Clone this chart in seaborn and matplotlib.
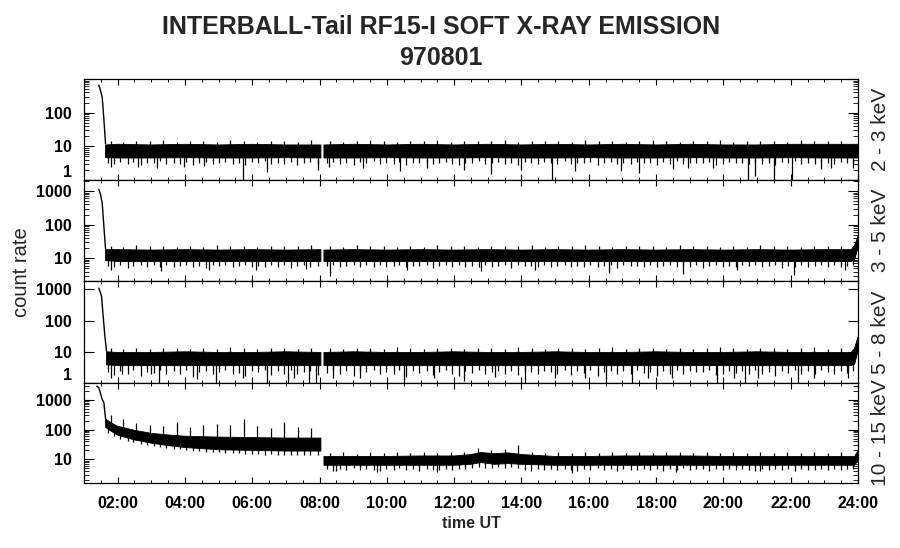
import numpy as np
import matplotlib
matplotlib.use("Agg")
import matplotlib.pyplot as plt
import seaborn as sns
from matplotlib.ticker import FixedLocator, LogLocator, NullFormatter, MultipleLocator, FuncFormatter

sns.set_style("ticks")
plt.rcParams['font.family'] = ['Liberation Sans', 'DejaVu Sans']

NAN = float('nan')

# ---------------- data (hours UT, counts) ----------------
bands = ["2 - 3 keV", "3 - 5 keV", "5 - 8 keV", "10 - 15 keV"]
hour_ticks = [2, 4, 6, 8, 10, 12, 14, 16, 18, 20, 22, 24]

# initial decay of each channel
p1_decay_t = [1.44, 1.50, 1.54, 1.59, 1.64]
p1_decay_v = [660, 420, 290, 66, 12]
p2_decay_t = [1.44, 1.49, 1.54, 1.59, 1.64]
p2_decay_v = [1130, 800, 450, 90, 19]
p3_decay_t = [1.44, 1.52, 1.57, 1.62, 1.67]
p3_decay_v = [1100, 610, 137, 32, 10.5]
p4_decay_t = [1.38, 1.44, 1.54, 1.59, 1.64]
p4_decay_v = [2900, 2600, 1050, 810, 230]

# dense noisy band: core lower / upper envelopes (NaN = data gap)
p1_t  = [1.64, 2, 3, 4, 5, 6, 7, 8.04, 8.08, 8.13, 9, 10, 11, 12, 13, 14, 15, 16, 17, 18, 19, 20, 21, 22, 23, 24]
p1_lo = [4.6, 4.5, 4.5, 4.6, 4.5, 4.5, 4.6, 4.5, NAN, 4.5, 4.5, 4.6, 4.5, 4.5, 4.6, 4.5, 4.5, 4.6, 4.5, 4.5, 4.6, 4.5, 4.5, 4.6, 4.5, 4.5]
p1_hi = [11, 11.5, 11, 11.5, 11, 11.5, 11, 11, NAN, 11, 11.5, 11, 11.5, 11, 11.5, 11, 11.5, 11, 11.5, 11, 11.5, 11, 11, 11.5, 11.5, 11.5]

p2_t  = [1.64, 2, 3, 4, 5, 6, 7, 8.04, 8.08, 8.13, 9, 10, 11, 12, 13, 14, 15, 16, 17, 18, 19, 20, 21, 22, 23, 23.8, 23.9, 24]
p2_lo = [8.5, 8, 8, 8, 8, 8, 8, 8, NAN, 8, 8, 8, 8, 8, 8, 8, 8, 8, 8, 8, 8, 8, 8, 8, 8, 8, 9, 20]
p2_hi = [18, 18, 17.5, 18, 17.5, 18, 17.5, 18, NAN, 17.5, 18, 17.5, 18, 17.5, 18, 17.5, 18, 17.5, 18, 17.5, 18, 17.5, 18, 17.5, 18, 18, 24, 45]

p3_t  = [1.67, 2, 3, 4, 5, 6, 7, 8.04, 8.08, 8.13, 9, 10, 11, 12, 13, 14, 15, 16, 17, 18, 19, 20, 21, 22, 23, 23.8, 23.9, 24]
p3_lo = [3.8, 3.6, 3.6, 3.6, 3.6, 3.6, 3.6, 3.6, NAN, 3.6, 3.6, 3.6, 3.6, 3.6, 3.6, 3.6, 3.6, 3.6, 3.6, 3.6, 3.6, 3.6, 3.6, 3.6, 3.6, 3.6, 4, 10]
p3_hi = [10, 9.5, 9.5, 10, 9.5, 9.5, 10, 9.5, NAN, 9.5, 10, 9.5, 9.5, 10, 9.5, 9.5, 10, 9.5, 9.5, 10, 9.5, 9.5, 10, 9.5, 9.5, 9.5, 13, 30]

p4_t  = [1.64, 1.8, 2.0, 2.5, 3.0, 3.5, 4.0, 5.0, 6.0, 7.0, 8.04, 8.08, 8.13, 9, 10, 11, 12, 12.5, 12.8, 13.2, 13.6, 14.0, 15, 16, 17, 18, 19, 20, 21, 22, 23, 23.9, 24]
p4_lo = [120, 90, 65, 45, 35, 29, 25, 21, 20, 19, 19, NAN, 6.3, 6.3, 6.3, 6.3, 6.3, 6.8, 7.8, 6.8, 7.2, 6.8, 6.3, 6.3, 6.3, 6.3, 6.3, 6.3, 6.3, 6.3, 6.3, 6.3, 9]
p4_hi = [230, 170, 130, 95, 75, 66, 60, 56, 54, 52, 52, NAN, 12.5, 12.5, 12.5, 13, 13, 14.5, 17, 15.5, 16.5, 14.5, 12.5, 12.5, 13, 13, 13, 12.5, 12.5, 12.5, 12.5, 12.5, 20]

# deep isolated downward excursions
p1_dn_t = [1.79, 2.59, 3.18, 3.97, 4.56, 5.71, 6.45, 7.94, 8.28, 9.3, 10.4, 11.2, 12.3, 13.1, 14.0, 14.9, 15.6, 16.97, 17.5, 18.5, 18.95, 19.7, 20.74, 20.93, 21.5, 22.03, 22.9, 23.2, 23.86]
p1_dn_v = [2.5, 2.5, 2.3, 2.5, 2.6, 1.0, 1.7, 2.0, 2.5, 2.2, 1.8, 2.3, 2.0, 1.5, 2.0, 1.0, 1.8, 1.9, 1.6, 2.1, 2.2, 2.2, 1.0, 1.3, 1.0, 1.0, 2.1, 2.3, 2.3]
p2_dn_t = [1.8, 3.3, 4.7, 6.1, 7.6, 8.3, 10.6, 12.8, 14.4, 16.6, 18.8, 20.4, 22.1, 23.6]
p2_dn_v = [4.5, 4.2, 4.5, 4.6, 4.8, 2.9, 4.4, 4.3, 4.5, 3.6, 3.4, 4.6, 3.1, 4.6]
p3_dn_t = [1.79, 2.13, 2.98, 3.23, 4.37, 4.92, 5.71, 6.45, 7.05, 7.24, 7.7, 7.9, 8.4, 9.2, 10.5, 11.4, 12.3, 13.2, 14.1, 15.0, 15.9, 16.52, 17.27, 17.76, 18.46, 19.8, 20.33, 20.63, 21.04, 22.23, 22.7, 23.7]
p3_dn_v = [1.45, 1.9, 1.9, 1.0, 1.3, 1.0, 1.5, 1.0, 1.0, 1.5, 1.0, 1.0, 1.5, 1.4, 1.0, 1.5, 1.2, 1.6, 1.0, 1.5, 1.4, 1.0, 1.0, 1.4, 1.4, 1.0, 1.4, 1.0, 1.4, 1.0, 1.4, 1.4]
p4_dn_t = [8.5, 9.7, 11.5, 15.5, 18.6, 21.1]
p4_dn_v = [4.0, 3.8, 3.7, 3.6, 3.8, 3.9]

# dense fringe of short excursions below the core (shared sample times)
fringe_dn_t = [1.72, 1.9, 2.08, 2.31, 2.47, 2.69, 2.86, 3.07, 3.26, 3.44,
               3.67, 3.85, 4.03, 4.24, 4.41, 4.63, 4.82, 5.01, 5.19, 5.42,
               5.6, 5.78, 5.99, 6.17, 6.38, 6.56, 6.77, 6.95, 7.16, 7.34,
               7.55, 7.73, 7.96, 8.22, 8.41, 8.62, 8.8, 9.01, 9.2, 9.39,
               9.61, 9.79, 9.98, 10.2, 10.37, 10.58, 10.77, 10.96, 11.18, 11.36,
               11.55, 11.76, 11.94, 12.15, 12.33, 12.54, 12.73, 12.92, 13.13, 13.31,
               13.52, 13.7, 13.91, 14.1, 14.29, 14.5, 14.68, 14.89, 15.07, 15.28,
               15.47, 15.66, 15.87, 16.05, 16.26, 16.44, 16.65, 16.84, 17.03, 17.24,
               17.42, 17.63, 17.81, 18.02, 18.21, 18.4, 18.61, 18.79, 19.0, 19.18,
               19.39, 19.58, 19.77, 19.98, 20.16, 20.37, 20.55, 20.76, 20.95, 21.14,
               21.35, 21.53, 21.74, 21.92, 22.13, 22.32, 22.51, 22.72, 22.9, 23.11,
               23.29, 23.5, 23.68, 23.86]
p1_fr_dn = [3.2, 2.9, 3.4, 3.0, 3.5, 2.8, 3.3, 3.1, 3.6, 2.9,
            3.3, 3.0, 3.5, 2.8, 3.2, 3.4, 2.9, 3.1, 3.5, 3.0,
            3.2, 2.8, 3.4, 3.1, 3.6, 2.9, 3.3, 3.0, 3.5, 2.8,
            3.2, 3.4, 2.9, 3.1, 3.5, 3.0, 3.3, 2.8, 3.4, 3.1,
            3.6, 2.9, 3.2, 3.0, 3.5, 2.8, 3.3, 3.1, 3.4, 2.9,
            3.2, 3.5, 3.0, 2.8, 3.3, 3.1, 3.6, 2.9, 3.2, 3.4,
            3.0, 3.3, 2.8, 3.5, 3.1, 2.9, 3.4, 3.2, 3.0, 3.6,
            2.9, 3.3, 3.1, 3.5, 2.8, 3.2, 3.4, 3.0, 3.3, 2.9,
            3.5, 3.1, 3.2, 2.8, 3.4, 3.0, 3.6, 2.9, 3.3, 3.1,
            3.2, 3.5, 2.8, 3.0, 3.4, 3.1, 3.3, 2.9, 3.5, 3.0,
            3.2, 2.8, 3.4, 3.1, 3.6, 2.9, 3.3, 3.0, 3.5, 3.2,
            2.9, 3.4, 3.1, 3.3]
p2_fr_dn = [6.0, 5.5, 6.3, 5.2, 5.8, 6.4, 5.4, 6.1, 5.6, 6.2,
            5.3, 5.9, 6.4, 5.5, 6.0, 5.2, 6.2, 5.7, 6.3, 5.4,
            5.9, 6.2, 5.3, 6.0, 5.6, 6.4, 5.5, 6.1, 5.2, 5.8,
            6.3, 5.4, 6.0, 5.7, 6.2, 5.3, 5.9, 6.4, 5.5, 6.1,
            5.6, 6.2, 5.3, 5.9, 6.4, 5.4, 6.0, 5.7, 6.3, 5.2,
            5.8, 6.1, 5.5, 6.4, 5.3, 6.0, 5.6, 6.2, 5.4, 5.9,
            6.3, 5.2, 6.1, 5.7, 6.0, 5.4, 6.4, 5.5, 5.9, 6.2,
            5.3, 6.0, 5.6, 6.3, 5.4, 5.8, 6.1, 5.2, 6.4, 5.7,
            6.0, 5.5, 6.2, 5.3, 5.9, 6.4, 5.4, 6.1, 5.6, 6.3,
            5.2, 5.8, 6.2, 5.5, 6.0, 5.3, 6.4, 5.7, 6.1, 5.4,
            5.9, 6.3, 5.2, 6.0, 5.6, 6.2, 5.4, 5.8, 6.4, 5.5,
            6.1, 5.3, 5.9, 6.2]
p3_fr_dn = [2.2, 1.8, 2.5, 2.0, 2.7, 1.7, 2.3, 2.1, 2.6, 1.9,
            2.4, 2.0, 2.6, 1.6, 2.2, 2.5, 1.9, 2.3, 2.7, 2.0,
            2.1, 1.7, 2.5, 2.2, 2.6, 1.8, 2.4, 2.0, 2.7, 1.9,
            2.3, 2.5, 1.8, 2.1, 2.6, 2.0, 2.4, 1.7, 2.5, 2.2,
            2.7, 1.9, 2.3, 2.0, 2.6, 1.6, 2.4, 2.1, 2.5, 1.8,
            2.2, 2.6, 2.0, 1.7, 2.4, 2.1, 2.7, 1.9, 2.3, 2.5,
            2.0, 2.4, 1.8, 2.6, 2.2, 1.9, 2.5, 2.3, 2.0, 2.7,
            1.8, 2.4, 2.1, 2.6, 1.7, 2.3, 2.5, 2.0, 2.4, 1.9,
            2.6, 2.1, 2.3, 1.7, 2.5, 2.0, 2.7, 1.9, 2.4, 2.2,
            2.3, 2.6, 1.8, 2.0, 2.5, 2.1, 2.4, 1.9, 2.6, 2.0,
            2.2, 1.7, 2.5, 2.1, 2.7, 1.9, 2.4, 2.0, 2.6, 2.3,
            1.9, 2.5, 2.1, 2.4]
p4_fr_dn = [75, 60, 48, 42, 38, 34, 30, 28, 26, 25,
            23, 22, 20, 19, 19, 18, 17, 17, 16, 16,
            16, 15, 15.5, 15, 14.5, 15, 14.5, 14, 14.5, 14,
            14.5, 14, 14, 4.6, 4.2, 4.9, 4.4, 5.0, 4.3, 4.7,
            4.5, 4.1, 4.8, 4.3, 5.0, 4.4, 4.7, 4.2, 4.9, 4.5,
            4.3, 4.8, 4.4, 4.9, 4.6, 5.0, 5.6, 5.3, 5.1, 5.5,
            5.2, 5.6, 5.0, 4.5, 4.2, 4.8, 4.4, 4.9, 4.3, 4.7,
            4.5, 4.1, 4.8, 4.3, 5.0, 4.4, 4.7, 4.2, 4.9, 4.5,
            4.3, 4.8, 4.4, 4.9, 4.2, 4.7, 4.5, 5.0, 4.3, 4.6,
            4.8, 4.2, 4.6, 4.4, 4.9, 4.3, 4.7, 4.5, 4.1, 4.8,
            4.4, 4.9, 4.3, 4.6, 4.2, 4.8, 4.5, 4.4, 4.9, 4.3,
            4.7, 4.5, 4.8, 4.6]

# fringe of short excursions above the core (shared sample times)
fringe_up_t = [1.8, 2.15, 2.55, 2.95, 3.35, 3.75, 4.15, 4.55, 4.95, 5.35, 5.75, 6.15, 6.55, 6.95, 7.35, 7.75,
               8.3, 8.7, 9.1, 9.5, 9.9, 10.3, 10.7, 11.1, 11.5, 11.9, 12.3, 12.7, 13.1, 13.5, 13.9, 14.3,
               14.7, 15.1, 15.5, 15.9, 16.3, 16.7, 17.1, 17.5, 17.9, 18.3, 18.7, 19.1, 19.5, 19.9, 20.3,
               20.7, 21.1, 21.5, 21.9, 22.3, 22.7, 23.1, 23.5]
p1_fr_up = [14, 13.5, 14.5, 14, 15, 13.5, 14, 14.5, 13.5, 15, 14, 13.5, 14.5, 14, 13.5, 15,
            14, 13.5, 14.5, 15, 14, 13.5, 14, 14.5, 15, 13.5, 14, 14.5, 14, 15, 13.5, 14,
            14.5, 14, 13.5, 15, 14, 14.5, 13.5, 14, 15, 14, 13.5, 14.5, 14, 15, 13.5,
            14, 14.5, 14, 13.5, 15, 14, 14.5, 14]
p2_fr_up = [23, 22, 24, 22.5, 23, 22, 23.5, 22, 24, 22.5, 23, 22, 23.5, 22.5, 23, 24,
            23, 22, 24, 22.5, 23, 22, 23.5, 22, 24, 22.5, 23, 22, 23.5, 22.5, 23, 24,
            22, 23, 22.5, 24, 23, 22, 23.5, 22.5, 23, 22, 24, 22.5, 23, 22, 23.5,
            22, 24, 22.5, 23, 22, 23.5, 22.5, 23]
p3_fr_up = [13, 12.5, 13.5, 12.5, 13, 13.5, 12.5, 13, 12.5, 14, 13, 12.5, 13.5, 13, 12.5, 13.5,
            13, 12.5, 13.5, 13, 12.5, 14, 13, 12.5, 13.5, 13, 12.5, 13, 13.5, 12.5, 14, 13,
            12.5, 13, 13.5, 12.5, 13, 14, 12.5, 13, 13.5, 12.5, 13, 12.5, 13.5, 14, 13,
            12.5, 13, 13.5, 12.5, 13, 14, 12.5, 13]
p4_fr_up = [300, 220, 170, 140, 130, 185, 120, 145, 160, 140, 230, 130, 110, 185, 120, 110,
            16, 17, 15.5, 17, 16, 18, 16.5, 17, 16, 17.5, 18, 24, 21, 23, 30, 17,
            16.5, 17, 16, 18, 16.5, 17, 16, 17.5, 16.5, 17, 18, 16, 17, 16.5, 17,
            16, 17.5, 16.5, 17, 16, 17, 16.5, 17]

# y-limits and labelled ticks of each panel
ylims = [(1, 1000), (2.1, 2130), (1, 1850), (1.6, 3700)]
ylabels_ticks = [[1, 10, 100], [10, 100, 1000], [1, 10, 100, 1000], [10, 100, 1000]]

panels = [
    (p1_decay_t, p1_decay_v, p1_t, p1_lo, p1_hi, p1_dn_t, p1_dn_v, p1_fr_dn, p1_fr_up),
    (p2_decay_t, p2_decay_v, p2_t, p2_lo, p2_hi, p2_dn_t, p2_dn_v, p2_fr_dn, p2_fr_up),
    (p3_decay_t, p3_decay_v, p3_t, p3_lo, p3_hi, p3_dn_t, p3_dn_v, p3_fr_dn, p3_fr_up),
    (p4_decay_t, p4_decay_v, p4_t, p4_lo, p4_hi, p4_dn_t, p4_dn_v, p4_fr_dn, p4_fr_up),
]

# ---------------- figure ----------------
W, H = 900, 548
fig = plt.figure(figsize=(W / 100, H / 100), dpi=100)
fig.patch.set_facecolor("white")

edges_px = [79, 180, 281, 383, 483]
left_px, right_px = 84, 858
axes = []
for i in range(4):
    top, bot = edges_px[i], edges_px[i + 1]
    ax = fig.add_axes([left_px / W, 1 - bot / H, (right_px - left_px) / W, (bot - top) / H])
    axes.append(ax)


def strokes(ax, ts, vs, t_arr, ref_arr, down):
    n = min(len(ts), len(vs))
    ts = np.asarray(ts[:n], dtype=float)
    vs = np.asarray(vs[:n], dtype=float)
    ok = ~np.isnan(ref_arr)
    base = np.interp(ts, t_arr[ok], ref_arr[ok])
    if down:
        ax.vlines(ts, vs, base * 1.15, color="black", linewidth=0.9)
    else:
        ax.vlines(ts, base / 1.15, vs, color="black", linewidth=0.9)


for i, ax in enumerate(axes):
    dt, dv, t, lo, hi, dnt, dnv, frd, fru = panels[i]
    ax.set_yscale("log")
    t_arr = np.array(t, dtype=float)
    lo_arr = np.array(lo, dtype=float)
    hi_arr = np.array(hi, dtype=float)
    ax.fill_between(t_arr, lo_arr, hi_arr, color="black", linewidth=0.6, edgecolor="black")
    strokes(ax, dnt, dnv, t_arr, lo_arr, True)
    strokes(ax, fringe_dn_t, frd, t_arr, lo_arr, True)
    strokes(ax, fringe_up_t, fru, t_arr, hi_arr, False)
    sns.lineplot(x=dt, y=dv, ax=ax, color="black", linewidth=1.0)

    ax.set_xlim(1.0, 24.0)
    ax.set_ylim(*ylims[i])
    for s in ax.spines.values():
        s.set_visible(True)
        s.set_linewidth(0.9)
        s.set_color("black")
    ax.xaxis.set_major_locator(FixedLocator(hour_ticks))
    ax.xaxis.set_minor_locator(MultipleLocator(0.5))
    ax.yaxis.set_major_locator(FixedLocator([1, 10, 100, 1000]))
    ax.yaxis.set_minor_locator(LogLocator(base=10, subs=np.arange(2, 10)))
    ax.yaxis.set_minor_formatter(NullFormatter())
    labs = ylabels_ticks[i]
    ax.yaxis.set_major_formatter(FuncFormatter(lambda v, p, labs=labs: (f"{int(round(v))}" if int(round(v)) in labs else "")))
    ax.tick_params(axis="both", which="both", direction="in", top=True, right=True, colors="black")
    ax.tick_params(axis="y", which="major", length=7.2, width=0.8, labelsize=11.5, pad=9)
    ax.tick_params(axis="y", which="minor", length=3.6, width=0.6)
    ax.tick_params(axis="x", which="major", length=4.6, width=0.8)
    ax.tick_params(axis="x", which="minor", length=2.4, width=0.7)
    for lab in ax.get_yticklabels():
        lab.set_fontweight("bold")
    if ylims[i][0] == 1:
        for tk in ax.yaxis.get_major_ticks():
            if abs(tk.get_loc() - 1) < 1e-9:
                tk.label1.set_verticalalignment("bottom")
    ax.set_ylabel("")
    ax.set_xlabel("")
    if i < 3:
        ax.tick_params(axis="x", labelbottom=False)
    else:
        ax.xaxis.set_major_formatter(FuncFormatter(lambda v, p: f"{int(round(v)):02d}:00"))
        ax.tick_params(axis="x", which="major", labelsize=11.5, pad=9)
        for lab in ax.get_xticklabels():
            lab.set_fontweight("bold")
        ax.set_xlabel("time UT", fontsize=11.5, fontweight="bold", labelpad=4)
    ax.grid(False)
    # channel label on the right
    yc = 1 - (edges_px[i] + edges_px[i + 1]) / 2 / H
    fig.text(880 / W, yc, bands[i], rotation=90, ha="center", va="center", fontsize=15)

fig.text(22 / W, 1 - 272 / H, "count rate", rotation=90, ha="center", va="center", fontsize=14.5)
fig.text(441 / W, 1 - 27 / H, "INTERBALL-Tail RF15-I SOFT X-RAY EMISSION", ha="center", va="center",
         fontsize=18, fontweight="bold")
fig.text(441 / W, 1 - 58 / H, "970801", ha="center", va="center", fontsize=18, fontweight="bold")

fig.savefig("out.png", dpi=100, facecolor="white")
